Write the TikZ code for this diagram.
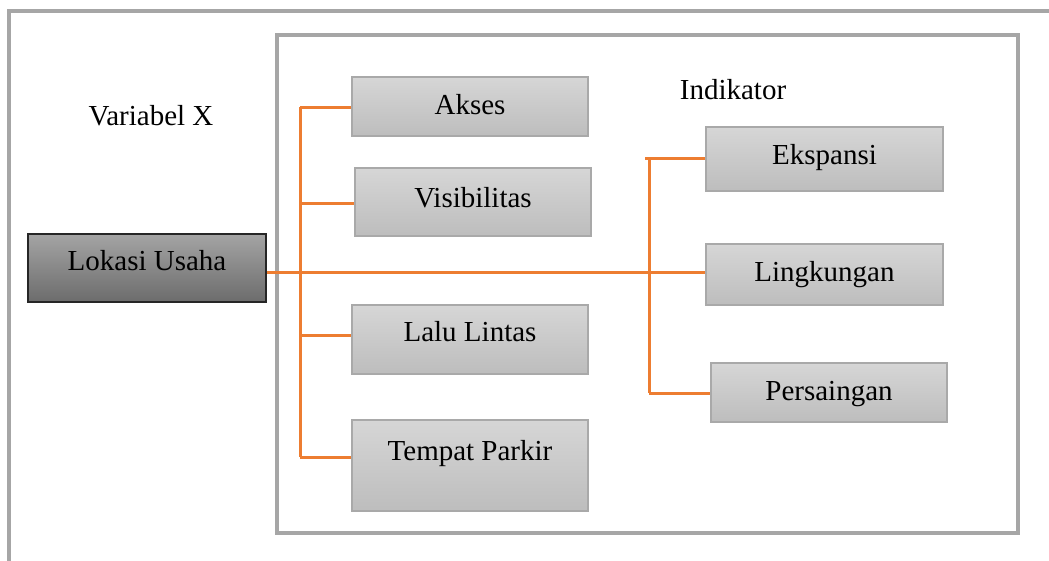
\documentclass[tikz,border=0pt]{standalone}
\usepackage{fontspec}
\setmainfont{Liberation Serif}
\definecolor{orng}{HTML}{ED7D31}
\definecolor{framegray}{HTML}{A6A6A6}
\definecolor{boxtop}{HTML}{D6D6D6}
\definecolor{boxbot}{HTML}{BDBDBD}
\definecolor{boxline}{HTML}{A9A9A9}
\definecolor{maintop}{HTML}{A4A4A4}
\definecolor{mainbot}{HTML}{6C6C6C}
\begin{document}
\begin{tikzpicture}[x=1pt,y=-1pt,
  every node/.style={font=\fontsize{29}{34}\selectfont, inner sep=0pt},
  frm/.style={draw=framegray, line width=4.5pt},
  ibox/.style={draw=boxline, line width=1.2pt, top color=boxtop, bottom color=boxbot,
    rectangle, minimum width=236pt, text height=19.2pt},
  mbox/.style={draw=black!85, line width=1.2pt, top color=maintop, bottom color=mainbot,
    rectangle, minimum width=238pt, minimum height=68pt, text height=19.2pt},
  lift/.style={text depth=#1},
  conn/.style={draw=orng, line width=3pt},
  plain/.style={text=black}]
\useasboundingbox (0,0) rectangle (1049,560);
% outer frame (cut by page edges)
\draw[frm] (9,600) -- (9,11) -- (1100,11);
% inner frame
\draw[frm, line width=4pt] (277,35) rectangle (1018,533);

\node[plain] (varx) at (151,116) {Variabel X};
\node[plain] (indik) at (733,90) {Indikator};

\node[mbox, lift=14pt] (lokasi) at (147,268) {Lokasi Usaha};

\node[ibox, minimum height=59pt, lift=4pt] (akses) at (470,106.5) {Akses};
\node[ibox, minimum height=68pt, lift=9pt] (visib) at (473,202) {Visibilitas};
\node[ibox, minimum height=69pt, lift=15pt] (lalu) at (470,339.5) {Lalu Lintas};
\node[ibox, minimum height=91pt, lift=29pt] (parkir) at (470,465.5) {Tempat Parkir};

\node[ibox, minimum width=237pt, minimum height=64pt, lift=8pt] (eksp) at (824.5,159) {Ekspansi};
\node[ibox, minimum width=237pt, minimum height=61pt, lift=5pt] (lingk) at (824.5,274.5) {Lingkungan};
\node[ibox, minimum width=236pt, minimum height=59pt, lift=4pt] (pers) at (829,392.5) {Persaingan};

% left bus
\coordinate (ltop) at (300,107);
\coordinate (lbot) at (300,457);
\draw[conn] (ltop) -- (lbot);
\draw[conn] (ltop) -- (akses.west |- ltop);
\draw[conn] (300,203) -- (visib.west |- 0,203);
\draw[conn] (300,335) -- (lalu.west |- 0,335);
\draw[conn] (lbot) -- (parkir.west |- lbot);

% main line
\draw[conn] (lokasi.east |- 0,272) -- (lingk.west |- 0,272);

% right bus
\coordinate (rtop) at (649,158);
\coordinate (rbot) at (649,393);
\draw[conn] (rtop) -- (rbot);
\draw[conn] (645,158) -- (eksp.west |- rtop);
\draw[conn] (rbot) -- (pers.west |- rbot);
\end{tikzpicture}
\end{document}
